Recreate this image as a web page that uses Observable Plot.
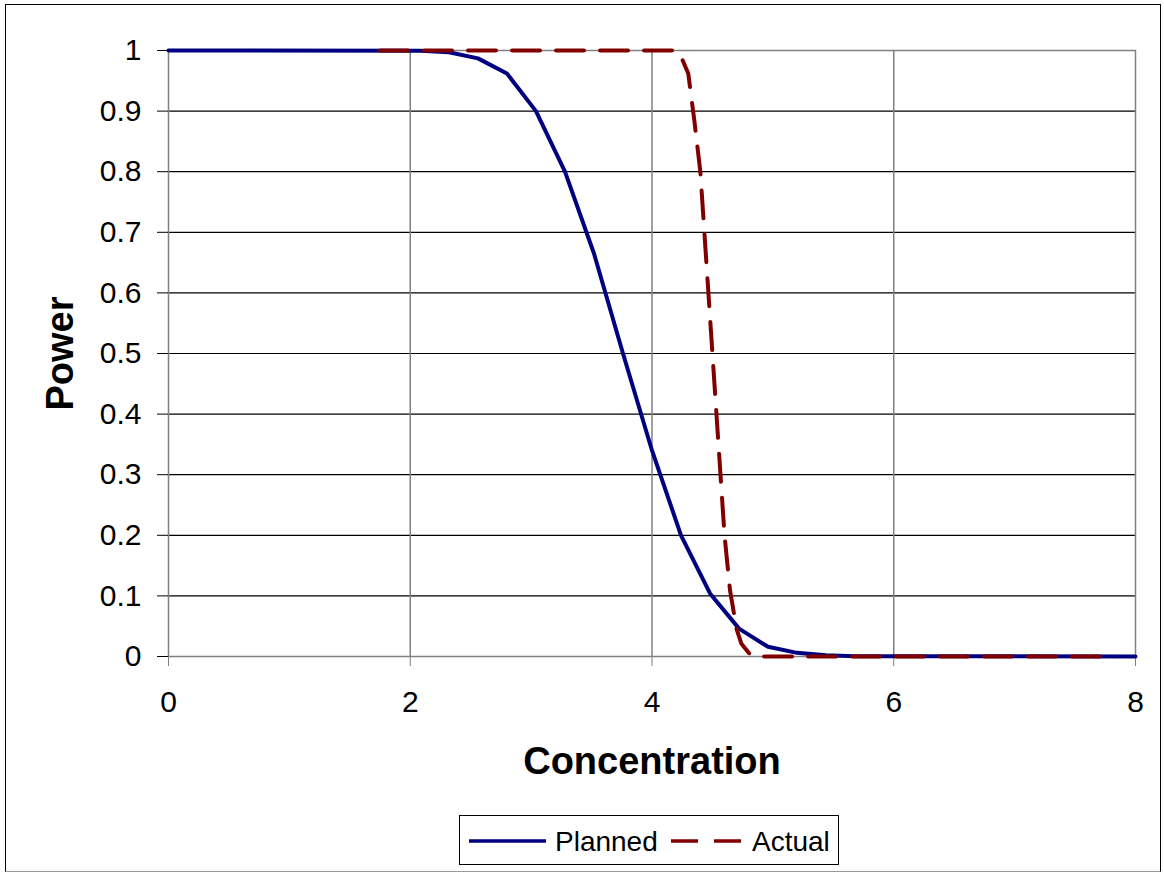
<!DOCTYPE html>
<html>
<head>
<meta charset="utf-8">
<script src="https://cdn.jsdelivr.net/npm/d3@7"></script>
<script src="https://cdn.jsdelivr.net/npm/@observablehq/plot@0.6"></script>
<style>
  html, body { margin: 0; padding: 0; background: #fff; }
  #wrap { position: relative; width: 1164px; height: 874px; overflow: hidden; font-family: "Liberation Sans", Arial, sans-serif; }
  #border { position: absolute; left: 5px; top: 4px; width: 1154px; height: 866px; border: 1px solid #000; border-bottom-color: #999; box-sizing: content-box; pointer-events: none; }
  #chart { position: absolute; left: 0; top: 0; }
  #legend { position: absolute; left: 459px; top: 815px; width: 380px; height: 50px; border: 1px solid #000; box-sizing: border-box; background: #fff; }
  #legend svg { position: absolute; left: 0; top: 0; }
</style>
</head>
<body>
<div id="wrap">
  <div id="chart"></div>
  <div id="border"></div>
  <div id="legend"></div>
</div>
<script>
// Planned curve (solid navy)
const plannedX = [0, 2.08, 2.32, 2.56, 2.80, 3.04, 3.28, 3.52, 3.76, 4.00, 4.24, 4.48, 4.72, 4.96, 5.20, 5.44, 5.68, 8];
const plannedY = [1, 0.9995, 0.997, 0.987, 0.962, 0.900, 0.800, 0.665, 0.500, 0.340, 0.200, 0.104, 0.046, 0.016, 0.006, 0.002, 0.0005, 0];

// Actual curve (dashed maroon)
const actualX = [1.75, 4.20, 4.24, 4.30, 4.35, 4.40, 4.45, 4.50, 4.55, 4.60, 4.645, 4.70, 4.74, 4.80, 4.84, 7.75];
const actualY = [1, 1, 0.99, 0.962, 0.885, 0.80, 0.65, 0.50, 0.35, 0.20, 0.11, 0.045, 0.021, 0.006, 0, 0];

const xTicks = [0, 2, 4, 6, 8];
const yTicks = [0, 0.1, 0.2, 0.3, 0.4, 0.5, 0.6, 0.7, 0.8, 0.9, 1];
const xGrid = [2, 4, 6];
const yGrid = [0.1, 0.2, 0.3, 0.4, 0.5, 0.6, 0.7, 0.8, 0.9];

const seriesNames = ["Planned", "Actual"];
const seriesColors = ["#000080", "#800000"];

const planned = plannedX.map((x, i) => ({x, y: plannedY[i]}));
const actual = actualX.map((x, i) => ({x, y: actualY[i]}));

const chart = Plot.plot({
  width: 1164,
  height: 874,
  marginLeft: 168,
  marginRight: 29,
  marginTop: 50,
  marginBottom: 218,
  style: {fontFamily: "'Liberation Sans', Arial, sans-serif", fontSize: "30px", color: "#000", background: "transparent"},
  x: {domain: [0, 8]},
  y: {domain: [0, 1]},
  marks: [
    Plot.ruleY(yGrid, {stroke: "#000", strokeWidth: 1.2}),
    Plot.ruleX(xGrid, {stroke: "#808080", strokeWidth: 1.5}),
    Plot.frame({stroke: "#808080", strokeWidth: 1.5}),
    Plot.axisY({ticks: yTicks, tickSize: 11, tickPadding: 16, tickFormat: d3.format("~g"), label: null, stroke: "#000", fontSize: 30}),
    Plot.axisX({ticks: xTicks, tickSize: 10, tickPadding: 24, tickFormat: d3.format("d"), label: null, stroke: "#808080", fontSize: 30}),
    Plot.line(planned, {x: "x", y: "y", stroke: seriesColors[0], strokeWidth: 4, strokeLinejoin: "round"}),
    Plot.line(actual, {x: "x", y: "y", stroke: seriesColors[1], strokeWidth: 4, strokeDasharray: "28,16"}),
    Plot.text(["Concentration"], {frameAnchor: "bottom", dy: 105, fontSize: 38, fontWeight: "bold", lineAnchor: "middle"}),
    Plot.text(["Power"], {frameAnchor: "left", dx: -108, rotate: -90, fontSize: 38, fontWeight: "bold", lineAnchor: "middle", textAnchor: "middle"})
  ]
});
document.getElementById("chart").appendChild(chart);

// Legend
const lg = d3.select("#legend").append("svg").attr("width", 380).attr("height", 50);
lg.append("line").attr("x1", 9).attr("x2", 86).attr("y1", 25).attr("y2", 25)
  .attr("stroke", seriesColors[0]).attr("stroke-width", 3.5);
lg.append("text").attr("x", 95).attr("y", 35).text(seriesNames[0])
  .attr("font-size", 28).attr("font-family", "'Liberation Sans', Arial, sans-serif");
lg.append("line").attr("x1", 211).attr("x2", 284).attr("y1", 25).attr("y2", 25)
  .attr("stroke", seriesColors[1]).attr("stroke-width", 3.5).attr("stroke-dasharray", "27,16");
lg.append("text").attr("x", 292).attr("y", 35).text(seriesNames[1])
  .attr("font-size", 28).attr("font-family", "'Liberation Sans', Arial, sans-serif");
</script>
</body>
</html>
